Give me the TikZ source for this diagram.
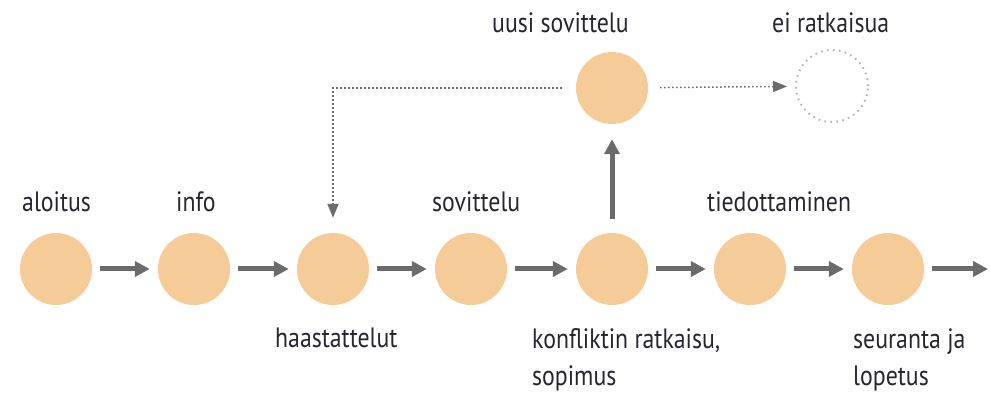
\documentclass[tikz,border=0pt]{standalone}
\usepackage{fontspec}
\setmainfont{PT Sans}[FakeStretch=0.85]
\usetikzlibrary{arrows.meta}
\definecolor{peach}{HTML}{F5CB98}
\definecolor{arrgray}{HTML}{6B6B6B}
\definecolor{dotgray}{HTML}{B4B4B4}
\definecolor{txt}{HTML}{262630}
\tikzset{
  stage/.style={circle, fill=peach, minimum size=72pt, inner sep=0pt},
  ghost/.style={circle, draw=dotgray, line width=2pt, dash pattern=on 1.6pt off 4.4pt, minimum size=72pt, inner sep=0pt},
  flow/.style={draw=arrgray, line width=5pt, -{Triangle[length=15pt,width=15pt]}},
  dotflow/.style={draw=arrgray, line width=1.5pt, dash pattern=on 1.5pt off 2.5pt, -{Triangle[length=14pt,width=11pt]}},
  lbl/.style={anchor=base west, inner sep=0pt, text=txt, font=\fontsize{28}{37}\selectfont, align=left}
}
\begin{document}
\begin{tikzpicture}[x=1pt,y=-1pt]
\useasboundingbox (0,0) rectangle (990,395);
\node[stage] (c1) at (56,269) {};
\node[stage] (c2) at (194,269) {};
\node[stage] (c3) at (333,269) {};
\node[stage] (c4) at (471,269) {};
\node[stage] (c5) at (612,269) {};
\node[stage] (c6) at (750,269) {};
\node[stage] (c7) at (888,269) {};
\node[stage] (top) at (612,88) {};
\node[ghost] (no) at (832,86) {};
\coordinate (end) at (988,269);
\coordinate (corner) at (333,88);

\draw[flow, shorten <=8pt, shorten >=8pt] (c1) -- (c2);
\draw[flow, shorten <=8pt, shorten >=8pt] (c2) -- (c3);
\draw[flow, shorten <=8pt, shorten >=8pt] (c3) -- (c4);
\draw[flow, shorten <=8pt, shorten >=8pt] (c4) -- (c5);
\draw[flow, shorten <=8pt, shorten >=8pt] (c5) -- (c6);
\draw[flow, shorten <=8pt, shorten >=8pt] (c6) -- (c7);
\draw[flow, shorten <=8pt] (c7) -- (end);
\draw[flow, shorten <=14pt, shorten >=15pt] (c5) -- (top);
\draw[dotflow, shorten <=14pt, shorten >=15pt] (top.west) -- (corner) -- (c3.north);
\draw[dotflow, shorten <=12pt, shorten >=8pt] (top) -- (no);

\node[lbl] (l1) at (22,212) {aloitus};
\node[lbl] (l2) at (176,212) {info};
\node[lbl] (l3) at (275,347) {haastattelut};
\node[lbl] (l4) at (432,212) {sovittelu};
\node[lbl] (l5) at (532,385) {konfliktin ratkaisu,\\sopimus};
\node[lbl] (l6) at (707,212) {tiedottaminen};
\node[lbl] (l7) at (853,385) {seuranta ja\\lopetus};
\node[lbl] (l8) at (492,33) {uusi sovittelu};
\node[lbl] (l9) at (772,33) {ei ratkaisua};
\end{tikzpicture}
\end{document}
